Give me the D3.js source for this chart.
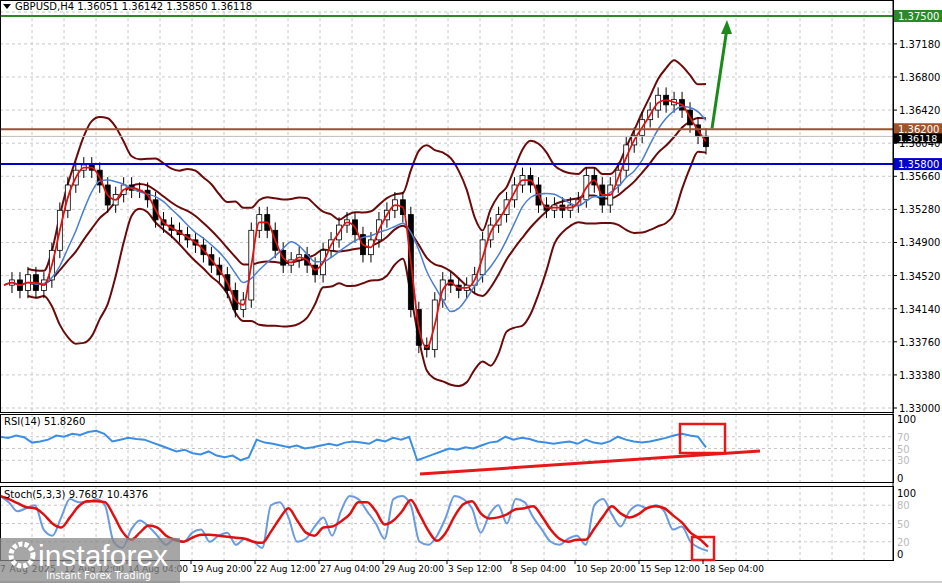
<!DOCTYPE html><html><head><meta charset="utf-8"><script src="https://cdn.jsdelivr.net/npm/d3@7/dist/d3.min.js"></script>
<style>body{margin:0;background:#fff}svg{font-family:Tahoma,"DejaVu Sans",sans-serif}</style></head><body><svg id="c" width="942" height="583"></svg><script>
const closes=[1.3441,1.3447,1.3435,1.3453,1.3435,1.3447,1.3481,1.3527,1.3556,1.3573,1.3579,1.3573,1.3556,1.3533,1.3545,1.3556,1.3550,1.3550,1.3539,1.3516,1.3510,1.3504,1.3499,1.3493,1.3487,1.3476,1.3464,1.3453,1.3435,1.3413,1.3424,1.3504,1.3522,1.3504,1.3481,1.3464,1.3470,1.3476,1.3464,1.3453,1.3481,1.3493,1.3510,1.3516,1.3499,1.3476,1.3493,1.3516,1.3527,1.3539,1.3522,1.3413,1.3372,1.3367,1.3424,1.3447,1.3441,1.3435,1.3441,1.3453,1.3493,1.3510,1.3522,1.3539,1.3556,1.3567,1.3556,1.3533,1.3527,1.3533,1.3527,1.3533,1.3539,1.3567,1.3556,1.3533,1.3556,1.3573,1.3602,1.3613,1.3631,1.3642,1.3659,1.3648,1.3654,1.3642,1.3625,1.3612,1.3600];
const rsi=[70,68,72,69,60,62,65,72,70,75,73,78,80,75,62,65,68,66,65,60,55,50,45,48,42,40,45,38,35,38,30,35,65,60,58,55,52,55,50,52,55,58,55,60,62,60,58,65,62,68,65,70,30,35,40,45,50,48,52,50,55,60,62,70,65,68,66,62,60,58,60,62,58,65,60,58,62,70,65,62,60,62,65,68,72,75,72,70,52];
const stoch=[95,85,70,75,80,40,30,60,90,85,85,90,80,20,10,40,55,45,30,15,25,20,35,40,20,30,35,15,25,20,10,80,85,60,20,25,45,60,30,70,95,90,70,50,25,90,95,80,20,15,30,60,95,90,75,35,65,80,50,90,85,60,40,20,15,25,30,15,80,90,65,45,70,80,75,80,70,40,45,20,10,5];
const priceTicks=[1.3718,1.3680,1.3642,1.3604,1.3566,1.3528,1.3490,1.3452,1.3414,1.3376,1.3338,1.3300];
const dateLabels=["7 Aug 2025","12 Aug 12:00","14 Aug 04:00","19 Aug 20:00","22 Aug 12:00","27 Aug 04:00","29 Aug 20:00","3 Sep 12:00","8 Sep 04:00","10 Sep 20:00","15 Sep 12:00","18 Sep 04:00"];
const levels=[{p:1.375,c:"#2a8a2a",t:"1.37500"},{p:1.362,c:"#a0522d",t:"1.36200"},{p:1.358,c:"#0000cc",t:"1.35800"}];
const last=1.36118;

const svg=d3.select("#c");const W=893;
const y=d3.scaleLinear().domain([1.33,1.375]).range([408,16]);
const x=d3.scaleLinear().domain([0,closes.length-1]).range([4,706]);
const yr=d3.scaleLinear().domain([0,100]).range([478,419]);
const ys=d3.scaleLinear().domain([0,100]).range([554,493]);
const xr=d3.scaleLinear().domain([0,rsi.length-1]).range([0,706]);
const xs=d3.scaleLinear().domain([0,stoch.length-1]).range([0,708]);
const g=svg.append("g");
const dash="3,3";
for(let gx=32;gx<W;gx+=32){g.append("line").attr("x1",gx).attr("x2",gx).attr("y1",12).attr("y2",560).attr("stroke","#c8c8c8").attr("stroke-dasharray",dash);}
priceTicks.forEach(p=>g.append("line").attr("x1",0).attr("x2",W).attr("y1",y(p)).attr("y2",y(p)).attr("stroke","#c8c8c8").attr("stroke-dasharray",dash));
[70,50,30].forEach(v=>g.append("line").attr("x1",0).attr("x2",W).attr("y1",yr(v)).attr("y2",yr(v)).attr("stroke","#c8c8c8").attr("stroke-dasharray",dash));
[80,50,20].forEach(v=>g.append("line").attr("x1",0).attr("x2",W).attr("y1",ys(v)).attr("y2",ys(v)).attr("stroke","#c8c8c8").attr("stroke-dasharray",dash));
g.append("line").attr("x1",0).attr("x2",W).attr("y1",12).attr("y2",12).attr("stroke","#c8c8c8").attr("stroke-dasharray",dash);
function sma(a,n){return a.map((v,i)=>{const s=a.slice(Math.max(0,i-n+1),i+1);return d3.mean(s);});}
function sd(a,n){return a.map((v,i)=>{const s=a.slice(Math.max(0,i-n+1),i+1);return s.length>1?d3.deviation(s):0;});}
const mid=sma(closes,10),dev=sd(closes,10);
const up=mid.map((m,i)=>m+2*dev[i]),lo=mid.map((m,i)=>m-2*dev[i]);
const fast=sma(closes,2),slow=sma(closes,6);
const line=d3.line().x((d,i)=>x(i)).y(d=>y(d)).curve(d3.curveMonotoneX);
[up,lo,mid].forEach(a=>g.append("path").attr("d",line(a.slice(3))).attr("transform",`translate(${x(3)-x(0)},0)`).attr("fill","none").attr("stroke","#6b0a0a").attr("stroke-width",2));
closes.forEach((c,i)=>{if(!i)return;const o=closes[i-1];const hi=Math.max(o,c)+0.0009,lw=Math.min(o,c)-0.0009;
g.append("line").attr("x1",x(i)).attr("x2",x(i)).attr("y1",y(hi)).attr("y2",y(lw)).attr("stroke","#000");
g.append("rect").attr("x",x(i)-2.5).attr("width",5).attr("y",y(Math.max(o,c))).attr("height",Math.max(1,y(Math.min(o,c))-y(Math.max(o,c)))).attr("fill",c>=o?"#fff":"#000").attr("stroke","#000").attr("stroke-width",0.8);});
g.append("path").attr("d",line(slow)).attr("fill","none").attr("stroke","#4a7fd0").attr("stroke-width",1.5);
g.append("path").attr("d",line(fast)).attr("fill","none").attr("stroke","#e01010").attr("stroke-width",1.8);
g.append("line").attr("x1",0).attr("x2",W).attr("y1",y(last)).attr("y2",y(last)).attr("stroke","#bbb");
levels.forEach(l=>g.append("line").attr("x1",0).attr("x2",W).attr("y1",y(l.p)).attr("y2",y(l.p)).attr("stroke",l.c).attr("stroke-width",2));
const a1=[712,y(1.3621)],a2=[727,20];
g.append("line").attr("x1",a1[0]).attr("y1",a1[1]).attr("x2",a2[0]).attr("y2",a2[1]+8).attr("stroke","#1a8a1a").attr("stroke-width",3);
g.append("path").attr("d",`M${a2[0]},${a2[1]} L${a2[0]-6},${a2[1]+14} L${a2[0]+5},${a2[1]+14}Z`).attr("fill","#1a8a1a");
const fr=svg.append("g");
fr.append("line").attr("x1",W).attr("x2",W).attr("y1",0).attr("y2",560).attr("stroke","#000");
[[0,412],[414,482],[486,560]].forEach(([a,b])=>fr.append("rect").attr("x",0.5).attr("y",a+0.5).attr("width",W).attr("height",b-a).attr("fill","none").attr("stroke","#000"));
fr.append("line").attr("x1",0).attr("x2",942).attr("y1",582).attr("y2",582).attr("stroke","#999");
priceTicks.forEach(p=>{fr.append("line").attr("x1",W).attr("x2",W+4).attr("y1",y(p)).attr("y2",y(p)).attr("stroke","#000");
fr.append("text").attr("x",W+6).attr("y",y(p)+4).attr("font-size",10).text(p.toFixed(5));});
levels.forEach(l=>{fr.append("rect").attr("x",W+1).attr("y",y(l.p)-6).attr("width",48).attr("height",12).attr("fill",l.c);
fr.append("text").attr("x",W+5).attr("y",y(l.p)+4).attr("font-size",10).attr("fill","#fff").text(l.t);});
fr.append("rect").attr("x",W+1).attr("y",y(last)-3).attr("width",48).attr("height",10).attr("fill","#000");
fr.append("text").attr("x",W+5).attr("y",y(last)+6).attr("font-size",9.5).attr("fill","#fff").text("1.36118");
[[100,"#000"],[70,"#bbb"],[50,"#bbb"],[30,"#bbb"],[0,"#000"]].forEach(([v,c])=>fr.append("text").attr("x",W+4).attr("y",yr(v)+4).attr("font-size",10).attr("fill",c).text(v));
[[100,"#000"],[80,"#bbb"],[50,"#bbb"],[20,"#bbb"],[0,"#000"]].forEach(([v,c])=>fr.append("text").attr("x",W+4).attr("y",ys(v)+4).attr("font-size",10).attr("fill",c).text(v));
g.append("path").attr("d",d3.line().x((d,i)=>xr(i)).y(d=>yr(d))(rsi)).attr("fill","none").attr("stroke","#3a8ee6").attr("stroke-width",2);
fr.append("line").attr("x1",420).attr("y1",474).attr("x2",760).attr("y2",451).attr("stroke","#e81818").attr("stroke-width",3);
fr.append("rect").attr("x",680).attr("y",424).attr("width",45).attr("height",29).attr("fill","none").attr("stroke","#e81818").attr("stroke-width",2.5);
fr.append("text").attr("x",4).attr("y",425).attr("font-size",10).text("RSI(14) 51.8260");
const sig=sma(stoch,3);
g.append("path").attr("d",d3.line().x((d,i)=>xs(i)).y(d=>ys(d)).curve(d3.curveMonotoneX)(stoch)).attr("fill","none").attr("stroke","#6a9ae0").attr("stroke-width",2);
g.append("path").attr("d",d3.line().x((d,i)=>xs(i)).y(d=>ys(d)).curve(d3.curveMonotoneX)(sig)).attr("fill","none").attr("stroke","#e01010").attr("stroke-width",2.5);
fr.append("rect").attr("x",692).attr("y",537).attr("width",22).attr("height",23).attr("fill","none").attr("stroke","#e81818").attr("stroke-width",2.5);
fr.append("text").attr("x",4).attr("y",498).attr("font-size",10).text("Stoch(5,3,3) 9.7687 10.4376");
fr.append("path").attr("d","M3,4 L11,4 L7,9Z").attr("fill","#000");
fr.append("text").attr("x",15).attr("y",10).attr("font-size",10).text("GBPUSD,H4  1.36051 1.36142 1.35850 1.36118");
dateLabels.forEach((t,i)=>{const px=i===0?-1:(i===1?63:(i===2?127:191+64*(i-3)));
fr.append("line").attr("x1",px).attr("x2",px).attr("y1",560).attr("y2",564).attr("stroke","#000");
fr.append("text").attr("x",px+1).attr("y",572).attr("font-size",9).attr("textLength",i===0?56:(t.length>11?60:54)).text(t);});
const wm=svg.append("g");
wm.append("rect").attr("x",0).attr("y",538).attr("width",180).attr("height",45).attr("fill","#888").attr("opacity",0.75);
wm.append("circle").attr("cx",22).attr("cy",555).attr("r",11).attr("fill","none").attr("stroke","#fff").attr("stroke-width",5).attr("stroke-dasharray","4,2");
wm.append("text").attr("x",38).attr("y",566).attr("font-size",30).attr("fill","#fff").attr("font-family","Arial,Liberation Sans").text("instaforex");
wm.append("text").attr("x",46).attr("y",579).attr("font-size",10).attr("fill","#fff").text("Instant Forex Trading");
</script></body></html>
